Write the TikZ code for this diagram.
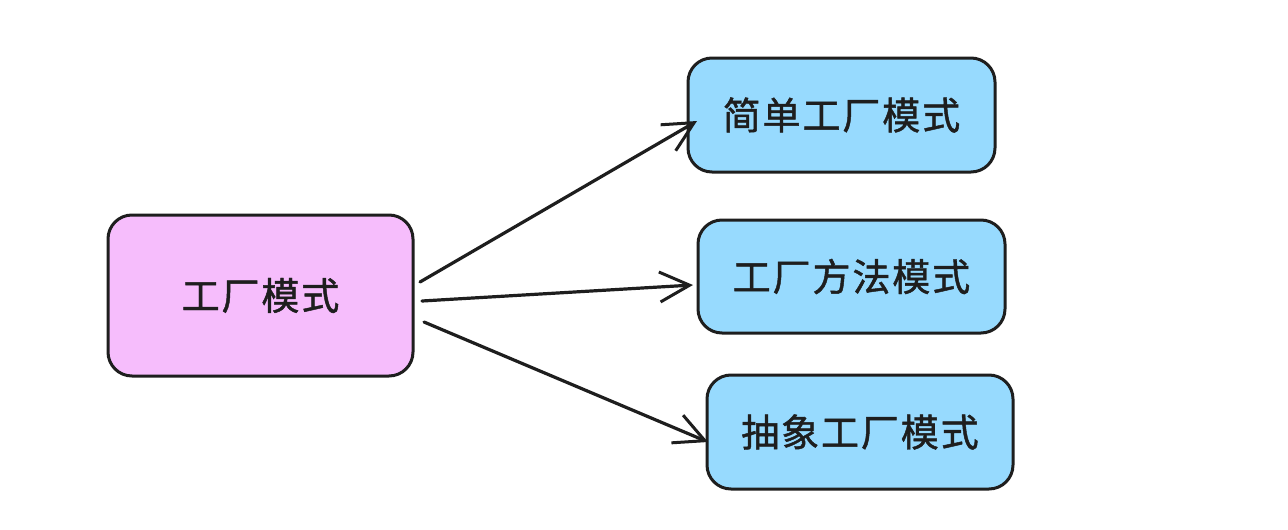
\documentclass[tikz,border=0pt]{standalone}
\usepackage{fontspec}
\newfontfamily\cjk[FakeBold=1.2,LetterSpace=5]{Noto Sans CJK SC}
\usetikzlibrary{arrows.meta}
\definecolor{ink}{HTML}{1E1E1E}
\definecolor{pinkfill}{HTML}{F6BDFC}
\definecolor{bluefill}{HTML}{97DAFE}
\tikzset{
  x=1pt,y=-1pt,
  boxstyle/.style={draw=ink,line width=3pt,rounded corners=24pt,minimum width=305pt,
    font=\cjk\fontsize{38}{40}\selectfont,text=ink,inner sep=0pt},
  conn/.style={draw=ink,line width=3.2pt,line cap=round,
    -{Straight Barb[length=30pt,width=30pt,line width=3pt]}}
}
\begin{document}
\begin{tikzpicture}
\useasboundingbox[fill=white] (0,0) rectangle (1288,530);
\node[boxstyle,fill=pinkfill,minimum height=161pt] (L) at (260.5,295.5) {工厂模式};
\node[boxstyle,fill=bluefill,minimum width=307pt,minimum height=114pt] (A) at (841.5,115) {简单工厂模式};
\node[boxstyle,fill=bluefill,minimum width=307pt,minimum height=113pt] (B) at (851.5,276.5) {工厂方法模式};
\node[boxstyle,fill=bluefill,minimum width=306pt,minimum height=114pt] (C) at (860,432) {抽象工厂模式};
\coordinate (s1) at (420,282);
\coordinate (s2) at (422,301);
\coordinate (s3) at (424,322);
\coordinate (e1) at (697,121);
\coordinate (e2) at (693,285);
\coordinate (e3) at (708,442);
\draw[conn] (s1) -- (e1);
\draw[conn] (s2) -- (e2);
\draw[conn] (s3) -- (e3);
\end{tikzpicture}
\end{document}
